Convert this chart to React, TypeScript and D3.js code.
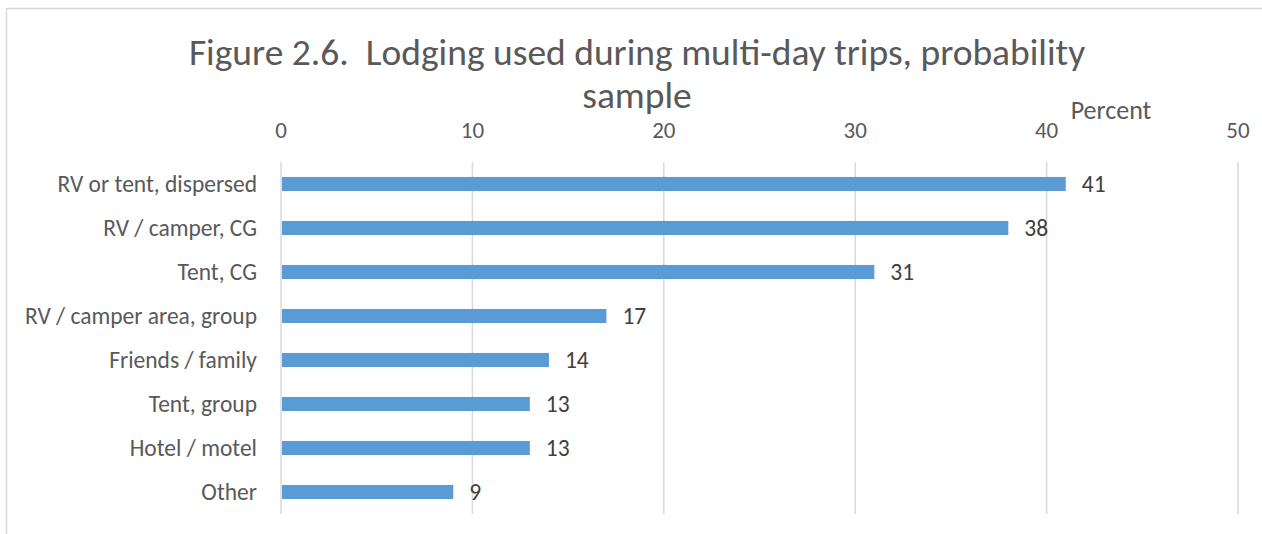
import { useEffect, useRef } from "react";
import * as d3 from "d3";

const categories = [
  "RV or tent, dispersed",
  "RV / camper, CG",
  "Tent, CG",
  "RV / camper area, group",
  "Friends / family",
  "Tent, group",
  "Hotel / motel",
  "Other",
];
const percents = [41, 38, 31, 17, 14, 13, 13, 9];
const xTicks = [0, 10, 20, 30, 40, 50];
const titleLines = [
  "Figure 2.6.  Lodging used during multi-day trips, probability",
  "sample",
];

const FONT = "Calibri, Carlito, 'Open Sans', 'Noto Sans', sans-serif";

export default function App() {
  const ref = useRef<SVGSVGElement>(null);

  useEffect(() => {
    const svg = d3.select(ref.current);
    svg.selectAll("*").remove();

    const width = 1262;
    const height = 534;
    const left = 281;
    const right = 1238;
    const top = 162;
    const bottom = 514;

    svg.attr("width", width).attr("height", height).style("font-family", FONT);

    // outer chart frame (only top and left edges visible)
    svg
      .append("path")
      .attr("d", "M6.5,534 V8.5 H1262")
      .attr("fill", "none")
      .attr("stroke", "#d9d9d9")
      .attr("stroke-width", 1.5);

    const x = d3.scaleLinear().domain([0, 50]).range([left, right]);
    const y = d3
      .scaleBand()
      .domain(categories)
      .range([top, bottom])
      .paddingInner(0.68)
      .paddingOuter(0.34);

    // gridlines
    svg
      .append("g")
      .selectAll("line")
      .data(xTicks)
      .enter()
      .append("line")
      .attr("x1", (d) => x(d))
      .attr("x2", (d) => x(d))
      .attr("y1", top)
      .attr("y2", bottom)
      .attr("stroke", "#d9d9d9")
      .attr("stroke-width", 1.5);

    // tick labels on top
    svg
      .append("g")
      .selectAll("text")
      .data(xTicks)
      .enter()
      .append("text")
      .attr("x", (d) => x(d))
      .attr("y", 138)
      .attr("text-anchor", "middle")
      .attr("fill", "#595959")
      .style("font-size", "23px")
      .text((d) => d);

    svg
      .append("text")
      .attr("x", 1111)
      .attr("y", 119)
      .attr("text-anchor", "middle")
      .attr("fill", "#595959")
      .style("font-size", "26px")
      .text("Percent");

    // bars
    const data = categories.map((c, i) => ({ c, v: percents[i] }));
    svg
      .append("g")
      .selectAll("rect")
      .data(data)
      .enter()
      .append("rect")
      .attr("x", x(0) + 1)
      .attr("y", (d) => y(d.c)!)
      .attr("width", (d) => x(d.v) - x(0) - 1)
      .attr("height", y.bandwidth())
      .attr("fill", "#5b9bd5");

    // value labels
    svg
      .append("g")
      .selectAll("text")
      .data(data)
      .enter()
      .append("text")
      .attr("x", (d) => x(d.v) + 16)
      .attr("y", (d) => y(d.c)! + y.bandwidth() / 2)
      .attr("dy", "0.35em")
      .attr("fill", "#404040")
      .style("font-size", "23.5px")
      .text((d) => d.v);

    // category labels
    svg
      .append("g")
      .selectAll("text")
      .data(categories)
      .enter()
      .append("text")
      .attr("x", left - 24)
      .attr("y", (d) => y(d)! + y.bandwidth() / 2)
      .attr("dy", "0.35em")
      .attr("text-anchor", "end")
      .attr("fill", "#595959")
      .style("font-size", "23.5px")
      .text((d) => d);

    // title
    svg
      .append("g")
      .selectAll("text")
      .data(titleLines)
      .enter()
      .append("text")
      .attr("x", 637)
      .attr("y", (d, i) => 65 + i * 43)
      .attr("text-anchor", "middle")
      .attr("fill", "#595959")
      .style("font-size", "37.5px")
      .style("white-space", "pre")
      .text((d) => d);
  }, []);

  return <svg ref={ref} style={{ position: "absolute", left: 0, top: 0 }} />;
}
